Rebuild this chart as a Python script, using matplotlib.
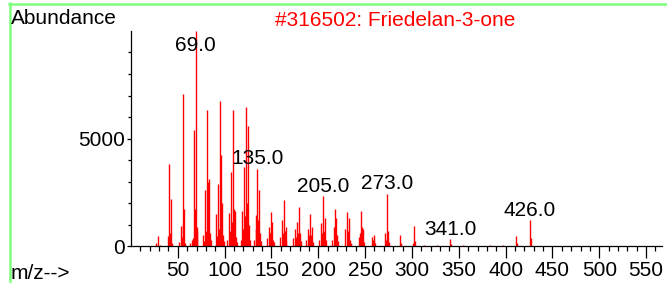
import matplotlib
matplotlib.use("Agg")
import matplotlib.pyplot as plt
from matplotlib.lines import Line2D
from matplotlib.ticker import FixedLocator

# Spectrum data (m/z, abundance)
mz = [27, 29, 31, 39, 41, 42, 43, 44, 51, 53, 54, 55, 56, 57, 58,
      63, 65, 66, 67, 68, 69, 70, 71, 77, 78, 79, 80, 81, 82, 83, 84, 85,
      91, 92, 93, 94, 95, 96, 97, 98, 99,
      103, 105, 106, 107, 108, 109, 110, 111, 112, 113,
      117, 119, 120, 121, 122, 123, 124, 125, 126, 127,
      131, 133, 134, 135, 136, 137, 138, 139,
      145, 147, 148, 149, 150, 151, 152, 153,
      159, 161, 162, 163, 164, 165, 166,
      173, 175, 176, 177, 178, 179, 180, 181,
      187, 189, 190, 191, 192, 193, 194,
      201, 203, 204, 205, 206, 207, 208,
      215, 217, 218, 219, 220, 221,
      229, 231, 232, 233, 234, 235,
      243, 245, 246, 247, 248, 249,
      257, 258, 259, 260, 261,
      271, 272, 273, 274, 275,
      287, 288, 301, 302, 303, 313, 327, 341, 342, 355, 383, 397,
      411, 412, 426, 427]
abundance = [150, 480, 60, 450, 3830, 600, 2180, 120, 180, 930, 400, 7080, 1000, 1740, 150,
             120, 300, 350, 5400, 1700, 9999, 900, 700, 500, 250, 2600, 700, 6340, 3000, 3130, 600, 300,
             1500, 450, 2870, 800, 6730, 4250, 2000, 500, 250,
             300, 1530, 700, 3450, 1100, 6340, 1700, 1650, 400, 200,
             300, 1650, 800, 3670, 1400, 6480, 2000, 5570, 1000, 300,
             300, 1450, 800, 3600, 1200, 2600, 600, 250,
             350, 900, 600, 1600, 700, 1100, 300, 200,
             400, 1200, 600, 2130, 700, 900, 250,
             350, 800, 400, 1100, 600, 1820, 600, 250,
             300, 800, 500, 1510, 500, 900, 200,
             300, 1050, 600, 2310, 700, 1300, 300,
             300, 900, 1740, 1300, 500, 250,
             800, 1590, 700, 1300, 300, 150,
             400, 600, 1620, 900, 800, 200,
             430, 300, 500, 300, 150,
             600, 300, 2440, 700, 200,
             510, 150, 150, 930, 250, 60, 60, 310, 100, 50, 50, 50,
             460, 120, 1200, 350]

label_mz = [69, 135, 205, 273, 341, 426]
label_ab = [9999, 3600, 2310, 2440, 310, 1200]
title = "#316502: Friedelan-3-one"

plt.rcParams['font.family'] = ['Liberation Sans', 'DejaVu Sans']
fs = 15

fig = plt.figure(figsize=(6.67, 2.83), dpi=100)
ax = fig.add_axes([131 / 667, 1 - 246 / 283, 531 / 667, 215 / 283])

ax.vlines(mz, 0, abundance, color='red', linewidth=1.0)

ax.set_xlim(0, 567)
ax.set_ylim(0, 10000)

for m, a in zip(label_mz, label_ab):
    y = min(a, 8850)
    ax.annotate(f"{m:.1f}", (m, y), xytext=(0, 3.3), textcoords='offset points',
                ha='center', va='baseline', fontsize=fs, color='black')

for s in ['top', 'right']:
    ax.spines[s].set_visible(False)
for s in ['left', 'bottom']:
    ax.spines[s].set_linewidth(0.9)

ax.xaxis.set_major_locator(FixedLocator([50, 100, 150, 200, 250, 300, 350, 400, 450, 500, 550]))
ax.xaxis.set_minor_locator(FixedLocator([v for v in range(10, 561, 10) if v % 50]))
ax.yaxis.set_major_locator(FixedLocator([0, 5000]))
ax.yaxis.set_minor_locator(FixedLocator([1000, 2000, 3000, 4000, 6000, 7000, 8000, 9000]))
ax.tick_params(axis='x', which='major', length=8.6, width=0.9, pad=2, labelsize=fs)
ax.tick_params(axis='x', which='minor', length=3.6, width=0.9)
ax.tick_params(axis='y', which='major', length=3, width=0.9, pad=1.5, labelsize=fs)
ax.tick_params(axis='y', which='minor', length=2.5, width=0.9)

fig.text(11 / 667, 1 - 24 / 283, "Abundance", fontsize=fs, ha='left', va='baseline')
fig.text(395.5 / 667, 1 - 25.5 / 283, title, fontsize=fs, color='red', ha='center', va='baseline')
fig.text(11 / 667, 1 - 279 / 283, "m/z-->", fontsize=fs, ha='left', va='baseline')

# light green frame lines
green = '#80ff80'
fig.add_artist(Line2D([10 / 667, 10 / 667], [0, 1 - 3 / 283], transform=fig.transFigure,
                      color=green, linewidth=1.8))
fig.add_artist(Line2D([9 / 667, 1], [1 - 3.8 / 283, 1 - 3.8 / 283], transform=fig.transFigure,
                      color=green, linewidth=1.8))

fig.savefig("out.png", dpi=100)
